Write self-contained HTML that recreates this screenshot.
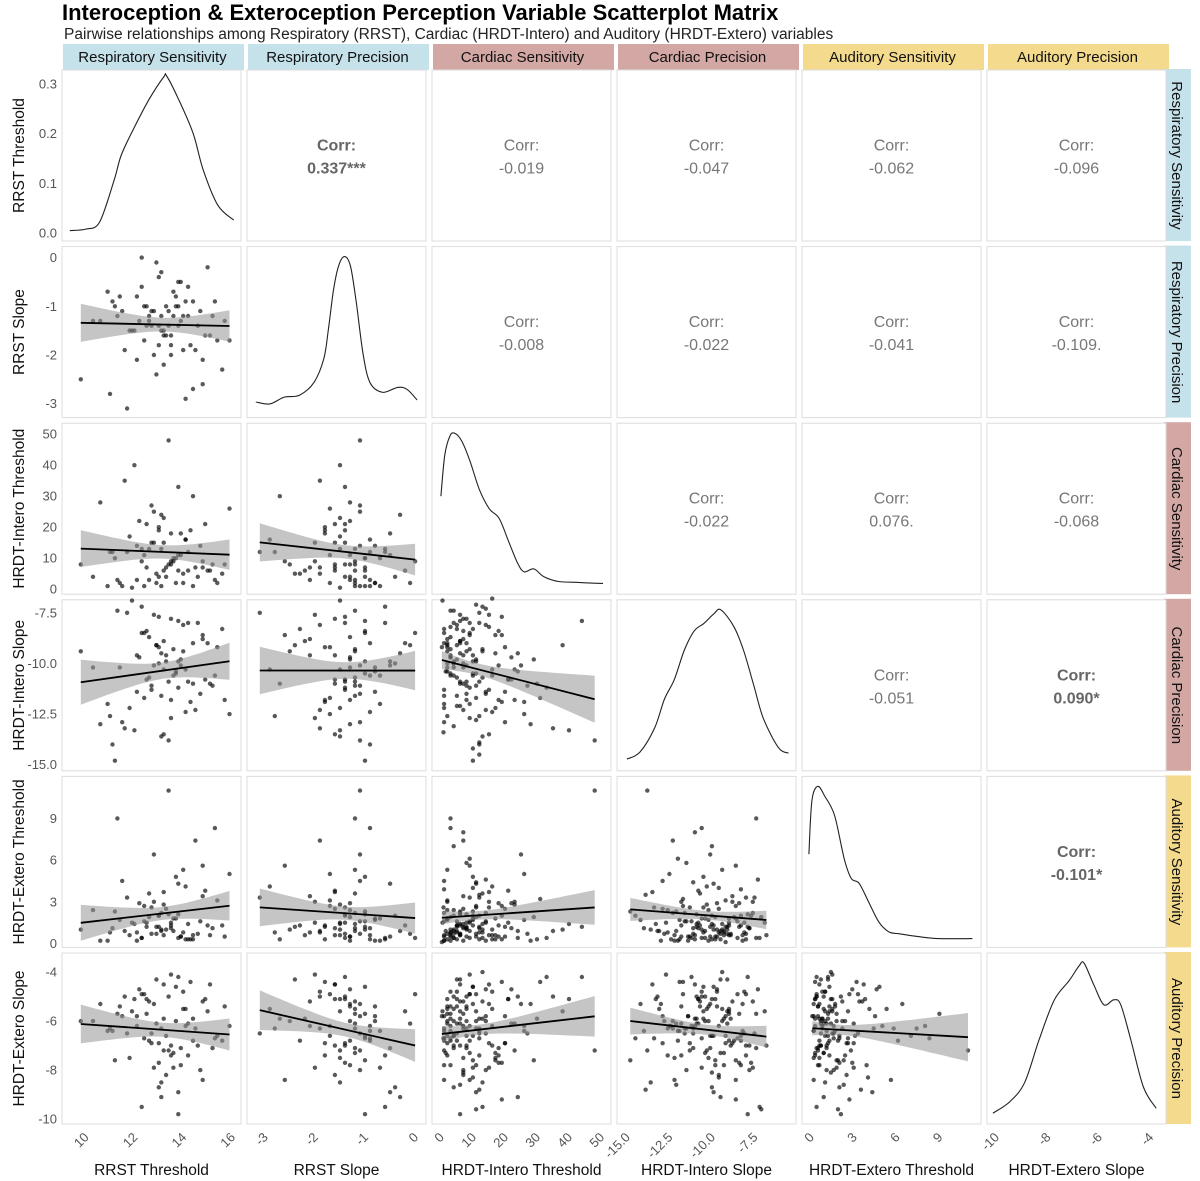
<!DOCTYPE html>
<html><head><meta charset="utf-8"><title>Scatterplot Matrix</title>
<style>
body{margin:0;background:#fff;}
svg{display:block;font-family:"Liberation Sans",sans-serif;}
</style></head>
<body>
<svg id="chart" width="1200" height="1181" viewBox="0 0 1200 1181" xmlns="http://www.w3.org/2000/svg">
<text x="62" y="20" font-size="22" font-weight="bold" fill="#000">Interoception &amp; Exteroception Perception Variable Scatterplot Matrix</text>
<text x="64" y="39" font-size="15.5" fill="#222">Pairwise relationships among Respiratory (RRST), Cardiac (HRDT-Intero) and Auditory (HRDT-Extero) variables</text>
</svg>
<script>
const varNames = ["RRST Threshold","RRST Slope","HRDT-Intero Threshold","HRDT-Intero Slope","HRDT-Extero Threshold","HRDT-Extero Slope"];
const stripNames = ["Respiratory Sensitivity","Respiratory Precision","Cardiac Sensitivity","Cardiac Precision","Auditory Sensitivity","Auditory Precision"];
const stripColors = ["#c5e1ea","#c5e1ea","#d3a7a4","#d3a7a4","#f3da8c","#f3da8c"];

const rrstThr = [12.1,13.4,14.2,11.5,13.0,15.1,12.8,13.7,10.6,14.8,13.3,12.4,13.9,11.9,14.5,13.1,12.6,15.6,13.8,11.2,12.9,14.1,13.5,10.9,12.2,14.7,13.2,15.3,12.0,13.6,11.7,14.3,13.0,12.5,15.9,13.9,11.4,12.7,14.0,13.4,9.8,14.9,12.3,13.1,15.0,11.8,13.7,12.6,14.4,13.3,11.1,12.8,14.6,13.5,15.4,12.1,13.0,14.2,11.6,13.8,12.4,15.7,13.2,12.9,14.1,11.3,13.6,12.7,14.8,13.1,10.3,12.3,13.5,14.0,11.0,13.8,12.5,14.4,13.2,15.2];
const rrstSlope = [-2.1,-1.4,-0.6,-1.1,-1.8,-1.6,-2.0,-0.8,-1.3,-2.6,-1.0,-1.7,-0.5,-1.5,-1.9,-0.3,-1.2,-2.3,-1.4,-1.0,-0.1,-2.9,-1.6,-0.7,-1.3,-1.1,-2.2,-0.9,-1.5,-1.2,-3.1,-1.8,-0.4,-1.0,-1.7,-1.3,-0.8,-1.4,-1.9,-1.1,-2.5,-1.6,-0.6,-1.2,-0.2,-1.5,-1.0,-1.3,-2.7,-1.6,-0.9,-1.1,-1.4,-2.0,-1.7,-0.8,-1.4,-1.2,-1.9,-0.5,-1.0,-1.3,-1.5,-2.4,-0.9,-1.2,-0.7,-1.1,-2.1,-1.5,-1.3,0.0,-1.8,-1.2,-2.8,-1.0,-1.4,-0.9,-1.6,-1.2];
const hiThr = [3,8,12,1,20,6,15,2,28,9,4,11,18,0.5,7,24,13,5,33,10,2,16,8,1,22,14,6,3,40,9,12,19,4,7,26,11,2,15,5,48,8,21,13,1,6,17,10,3,30,7,12,25,4,9,2,14,19,6,35,11,1,8,23,5,16,3,10,27,7,13,4,9,18,2,12,6,21,1,15,8,3,11,29,5,14,7,20,2,10,17,4,44,6,13,9,1,24,12,3,16,8,5,19,11,2,7,31,14,4,10,22,6,1,13,9,3,18,26,5,12,8,15,2,38,7,11,4,20,10,6,0.3,5,9,1.5,14,3,7,11,2,17,0.8,6,12,4,23,8,1,10,16,3];
const hiSlope = [-9.6,-10.9,-8.0,-12.9,-9.2,-11.0,-7.6,-10.4,-13.0,-8.6,-9.9,-11.7,-10.1,-6.9,-12.3,-9.5,-10.7,-8.3,-11.2,-14.8,-9.1,-10.3,-7.8,-12.0,-9.7,-11.5,-8.9,-10.6,-13.3,-9.3,-7.5,-11.9,-10.0,-8.4,-12.5,-9.8,-10.2,-11.3,-8.1,-13.8,-9.4,-10.8,-7.2,-11.6,-9.0,-12.2,-10.5,-8.7,-11.0,-9.6,-14.0,-10.1,-8.0,-12.7,-9.2,-11.4,-7.7,-10.9,-13.2,-9.9,-8.5,-11.8,-10.3,-9.1,-12.4,-7.4,-10.6,-11.1,-8.8,-13.6,-10.2,-8.5,-11.8,-9.4,-12.6,-7.9,-10.8,-9.0,-13.5,-11.1,-8.2,-10.5,-9.8,-12.1,-7.3,-10.0,-11.4,-8.8,-14.2,-9.5,-10.0,-7.9,-12.1,-9.3,-11.2,-8.3,-10.4,-14.5,-9.7,-6.8,-11.5,-10.7,-8.6,-12.8,-9.0,-10.2,-11.7,-8.1,-13.1,-9.6,-10.8,-7.6,-11.3,-9.4,-12.0,-10.5,-8.4,-11.9,-9.8,-13.9,-10.1,-8.2,-12.6,-9.1,-11.0,-7.1,-10.6,-12.9,-9.9,-8.9,-9.2,-11.6,-8.0,-10.4,-12.3,-9.7,-7.8,-11.1,-10.0,-8.6,-13.4,-9.5,-10.9,-7.4,-11.8,-9.0,-12.2,-8.3,-10.6,-9.3];
const heThr = [0.8,2.1,0.3,4.5,1.2,0.6,3.0,1.8,0.2,5.6,1.0,2.7,0.5,1.5,7.4,0.9,3.6,1.3,0.4,2.3,0.7,4.1,1.1,0.2,2.9,1.6,0.6,8.3,1.4,0.9,3.3,0.3,2.0,1.2,5.0,0.5,1.7,2.6,0.8,11.0,1.0,3.8,0.4,2.2,1.3,0.6,4.8,1.9,0.3,2.5,1.1,6.4,0.7,1.5,3.1,0.2,2.0,1.4,0.9,4.3,1.6,0.5,2.8,1.2,0.3,9.0,1.8,0.7,3.4,1.0,2.4,0.4,1.3,5.3,0.8,2.1,1.5,0.6,3.7,1.1,0.2,2.6,1.9,0.9,4.6,1.4,0.5,3.0,1.7,0.3,7.0,1.2,2.3,0.8,1.6,3.9,0.4,2.0,1.0,0.6,5.8,1.3,2.7,0.7,1.8,0.2,3.2,1.5,0.9,4.0,1.1,2.2,0.5,1.4,6.1,0.8,2.9,1.7,0.3,3.5,1.2,0.6,2.4,1.0,8.0,1.9,0.4,2.5,1.3,0.7,0.1,1.6,3.3,0.9,2.2,0.5,1.1,4.4,0.3,1.8,2.6,0.7,1.2,0.4,3.0,1.5,0.2,2.0,1.0,0.6];
const heSlope = [-6.2,-5.0,-7.4,-5.8,-6.9,-4.5,-7.9,-6.0,-5.3,-8.4,-6.6,-4.9,-7.1,-5.6,-6.3,-9.1,-5.2,-6.8,-4.2,-7.6,-6.1,-5.5,-7.0,-6.4,-4.7,-8.0,-5.9,-6.7,-5.1,-7.3,-6.5,-4.4,-8.7,-5.7,-6.2,-7.8,-5.4,-6.9,-4.8,-7.2,-6.0,-5.1,-9.5,-6.3,-5.6,-7.5,-4.6,-6.8,-5.9,-8.2,-6.4,-5.3,-7.0,-4.1,-6.6,-5.8,-7.7,-6.1,-5.0,-8.9,-6.7,-5.4,-7.2,-4.3,-6.2,-5.7,-7.9,-6.5,-5.2,-8.5,-6.0,-4.9,-7.4,-5.5,-6.3,-9.8,-5.1,-6.8,-4.5,-7.1,-6.4,-5.6,-7.6,-6.1,-4.7,-8.1,-5.8,-6.9,-5.3,-7.3,-6.6,-4.2,-8.6,-5.9,-6.2,-7.8,-5.0,-6.7,-4.8,-7.0,-6.3,-5.4,-9.2,-6.0,-5.7,-7.5,-4.4,-6.5,-5.5,-8.3,-6.1,-5.2,-7.2,-4.0,-6.8,-5.9,-7.7,-6.4,-5.1,-8.8,-6.6,-5.3,-7.4,-5.6,-6.2,-9.6,-5.0,-6.9,-4.6,-7.0,-5.8,-6.5,-4.9,-7.3,-6.0,-5.4,-8.0,-6.3,-5.1,-7.6,-6.7,-4.3,-5.9,-7.1,-6.1,-5.5,-8.4,-6.6,-4.8,-7.8];

const densX0 = [9.35,10.0,10.57,11.17,11.46,11.98,12.59,13.2,13.32,13.8,14.41,14.82,15.42,16.07];
const densY0 = [0.005,0.008,0.022,0.107,0.157,0.211,0.268,0.314,0.316,0.27,0.2,0.127,0.056,0.026];
const densX1 = [-3.18,-2.9,-2.61,-2.31,-2.02,-1.82,-1.73,-1.63,-1.53,-1.41,-1.29,-1.18,-1.04,-0.90,-0.65,-0.35,-0.16,0.04];
const densY1 = [12,10,17,19,32,57,87,127,152,162,152,117,62,32,22,27,25,14];
const densX2 = [0,1.2,2.8,4.3,6.5,9.0,12.0,15.1,18.2,21.3,23.8,25.9,29.0,32.1,36.7,42.9,50.6];
const densY2 = [97,139,159,162,154,134,104,84,74,49,29,19,22,14,9,8,7];
const densX3 = [-15.0,-14.24,-13.37,-12.79,-12.21,-11.63,-11.05,-10.47,-9.88,-9.48,-8.72,-8.14,-7.56,-6.98,-6.1,-5.5];
const densY3 = [8,15,40,70,90,120,140,148,158,162,145,120,85,50,20,14];
const densX4 = [-0.14,0.07,0.48,0.97,1.66,2.34,2.83,3.38,4.07,4.76,5.45,6.14,7.52,8.9,11.31];
const densY4 = [92,147,162,152,132,87,67,62,42,22,12,10,7,5,5];
const densX5 = [-10.12,-9.46,-8.88,-8.31,-7.73,-7.15,-6.77,-6.58,-6.19,-5.81,-5.42,-5.15,-4.77,-4.27,-3.77];
const densY5 = [7,19,39,84,124,144,159,162,139,119,124,119,84,34,12];

const corrValues = ["0.337***","-0.019","-0.047","-0.062","-0.096","-0.008","-0.022","-0.041","-0.109.","-0.022","0.076.","-0.068","-0.051","0.090*","-0.101*"];
const corrBold = [true,false,false,false,false,false,false,false,false,false,false,false,false,true,true];

const xTicks = [[10,12,14,16],[-3,-2,-1,0],[0,10,20,30,40,50],[-15,-12.5,-10,-7.5],[0,3,6,9],[-10,-8,-6,-4]];
const xTickLabels = [["10","12","14","16"],["-3","-2","-1","0"],["0","10","20","30","40","50"],["-15.0","-12.5","-10.0","-7.5"],["0","3","6","9"],["-10","-8","-6","-4"]];
const yTicks = [[0,0.1,0.2,0.3],[0,-1,-2,-3],[0,10,20,30,40,50],[-7.5,-10,-12.5,-15],[0,3,6,9],[-4,-6,-8,-10]];
const yTickLabels = [["0.0","0.1","0.2","0.3"],["0","-1","-2","-3"],["0","10","20","30","40","50"],["-7.5","-10.0","-12.5","-15.0"],["0","3","6","9"],["-4","-6","-8","-10"]];

const vars = [rrstThr,rrstSlope,hiThr,hiSlope,heThr,heSlope];
const densXs = [densX0,densX1,densX2,densX3,densX4,densX5];
const densYs = [densY0,densY1,densY2,densY3,densY4,densY5];

const colX = i => 62 + i*185;
const rowY = j => 70 + j*176.6;
const PW = 179, PH = 171;
const xDom = [[9.03,16.37],[-3.355,0.217],[-2.78,53.1],[-15.58,-5.06],[-0.62,11.91],[-10.35,-3.39]];
const yDom = [[-0.016,0.328],[-3.287,0.226],[-1.6,53.55],[-15.3,-6.86],[-0.28,12.02],[-10.2,-3.22]];
function sx(c,v){const d=xDom[c];return colX(c)+(v-d[0])/(d[1]-d[0])*PW;}
function sy(r,v){const d=yDom[r];return rowY(r)+PH-(v-d[0])/(d[1]-d[0])*PH;}

const svg = document.getElementById('chart');
const NS = "http://www.w3.org/2000/svg";
function mk(tag, attrs, parent){const e=document.createElementNS(NS,tag);for(const k in attrs)e.setAttribute(k,attrs[k]);(parent||svg).appendChild(e);return e;}
function smoothPath(P){
  let d='M'+P[0][0].toFixed(1)+','+P[0][1].toFixed(1);
  for(let i=0;i<P.length-1;i++){
    const p0=P[Math.max(0,i-1)],p1=P[i],p2=P[i+1],p3=P[Math.min(P.length-1,i+2)];
    const c1=[p1[0]+(p2[0]-p0[0])/6,p1[1]+(p2[1]-p0[1])/6];
    const c2=[p2[0]-(p3[0]-p1[0])/6,p2[1]-(p3[1]-p1[1])/6];
    d+=' C'+c1[0].toFixed(1)+','+c1[1].toFixed(1)+' '+c2[0].toFixed(1)+','+c2[1].toFixed(1)+' '+p2[0].toFixed(1)+','+p2[1].toFixed(1);
  }
  return d;
}

for(let c=0;c<6;c++){
  const g = mk('g',{});
  
  
  mk('rect',{x:colX(c)+1,y:44,width:PW+2,height:26,fill:stripColors[c]},g);
  const t = mk('text',{x:colX(c)+PW/2+1,y:62,'font-size':15,'text-anchor':'middle',fill:'#111'},g);
  t.textContent = stripNames[c];
}
for(let r=0;r<6;r++){
  const g = mk('g',{});
  
  
  mk('rect',{x:1164,y:rowY(r)-1,width:27,height:PH+1,fill:stripColors[r]},g);
  const cx=1172, cy=rowY(r)+PH/2;
  const t = mk('text',{x:cx,y:cy,'font-size':15,'text-anchor':'middle',fill:'#111',transform:`rotate(90 ${cx} ${cy})`},g);
  t.textContent = stripNames[r];
}

let ci = 0;
for(let r=0;r<6;r++){
  for(let c=0;c<6;c++){
    const g = mk('g',{});
    
    
    mk('rect',{x:colX(c),y:rowY(r),width:PW,height:PH,fill:'#fff',stroke:'#dcdcdc','stroke-width':1},g);
    if(c>r){
      const t1 = mk('text',{x:colX(c)+PW/2,y:rowY(r)+PH/2-5,'font-size':16,'text-anchor':'middle',fill:corrBold[ci]?'#666':'#777','font-weight':corrBold[ci]?'bold':'normal'},g);
      
      
      t1.textContent='Corr:';
      const t2 = mk('text',{x:colX(c)+PW/2,y:rowY(r)+PH/2+18,'font-size':16,'text-anchor':'middle',fill:corrBold[ci]?'#666':'#777','font-weight':corrBold[ci]?'bold':'normal'},g);
      
      
      t2.textContent=corrValues[ci];
      ci++;
    } else if(c===r){
      const xs=densXs[c], ys=densYs[c];
      let P;
      if(r===0){ P = xs.map((x,i)=>[sx(c,x),sy(0,ys[i])]); }
      else { const m=Math.max(...ys); P = xs.map((x,i)=>[sx(c,x),rowY(r)+PH-4-ys[i]/m*(PH-14)]); }
      const p = mk('path',{d:smoothPath(P),fill:'none',stroke:'#222','stroke-width':1.1},g);
      
      
    } else {
      const X=vars[c], Y=vars[r];
      const n=Math.min(X.length,Y.length);
      const xv=X.slice(0,n), yv=Y.slice(0,n);
      const mx=xv.reduce((a,b)=>a+b,0)/n, my=yv.reduce((a,b)=>a+b,0)/n;
      let sxx=0,sxy=0; for(let i=0;i<n;i++){sxx+=(xv[i]-mx)**2;sxy+=(xv[i]-mx)*(yv[i]-my);}
      const b=sxy/sxx, a=my-b*mx;
      let sse=0; for(let i=0;i<n;i++){sse+=(yv[i]-a-b*xv[i])**2;}
      const s=Math.sqrt(sse/(n-2));
      const x0=Math.min(...xv), x1=Math.max(...xv);
      const up=[],lo=[];
      for(let k=0;k<=20;k++){const xx=x0+(x1-x0)*k/20;const se=1.97*s*Math.sqrt(1/n+(xx-mx)**2/sxx);const yh=a+b*xx;up.push(sx(c,xx).toFixed(1)+','+sy(r,yh+se).toFixed(1));lo.unshift(sx(c,xx).toFixed(1)+','+sy(r,yh-se).toFixed(1));}
      for(let i=0;i<n;i++){
        const pt = mk('circle',{cx:sx(c,xv[i]).toFixed(1),cy:sy(r,yv[i]).toFixed(1),r:2.2,fill:'rgba(0,0,0,0.65)'},g);
        
        
      }
      const band = mk('polygon',{points:up.concat(lo).join(' '),fill:'rgba(150,150,150,0.55)',stroke:'none'},g);
      
      
      const ln = mk('line',{x1:sx(c,x0),y1:sy(r,a+b*x0),x2:sx(c,x1),y2:sy(r,a+b*x1),stroke:'#000','stroke-width':1.8},g);
      
      
    }
  }
}

for(let r=0;r<6;r++){
  yTicks[r].forEach((v,i)=>{
    const t = mk('text',{x:57,y:(sy(r,v)+4.5).toFixed(1),'font-size':13,'text-anchor':'end',fill:'#555'});
    
    
    t.textContent=yTickLabels[r][i];
  });
  const cy=rowY(r)+PH/2;
  const yl = mk('text',{x:24,y:cy,'font-size':15.5,'text-anchor':'middle',fill:'#111',transform:`rotate(-90 24 ${cy})`});
  
  
  yl.textContent=varNames[r];
}
for(let c=0;c<6;c++){
  xTicks[c].forEach((v,i)=>{
    const x=sx(c,v)+4, y=1138;
    const t = mk('text',{x:x,y:y,'font-size':13,'text-anchor':'end',fill:'#555',transform:`rotate(-45 ${x} ${y})`});
    
    
    t.textContent=xTickLabels[c][i];
  });
  const xl = mk('text',{x:colX(c)+PW/2,y:1175,'font-size':15.5,'text-anchor':'middle',fill:'#111'});
  
  
  xl.textContent=varNames[c];
}
</script>
</body></html>
